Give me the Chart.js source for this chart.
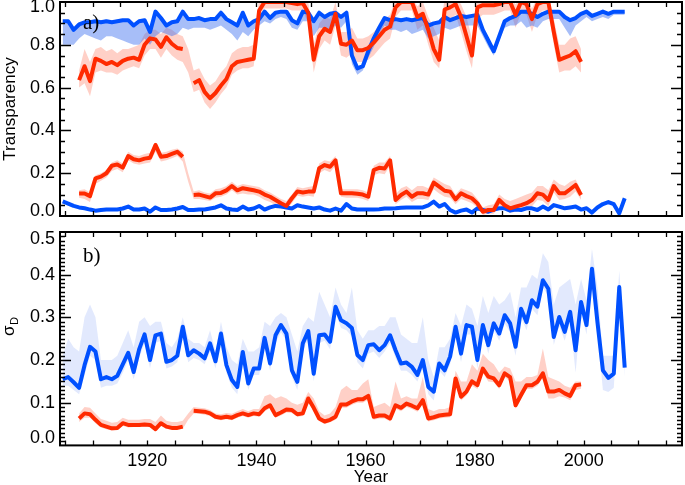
<!DOCTYPE html>
<html lang="en">
<head>
<meta charset="UTF-8">
<title>Transparency and sigma D</title>
<style>
  html, body { margin: 0; padding: 0; background: #fff; overflow: hidden; }
  #wrap { position: relative; width: 685px; height: 485px; }
  #panelA { position: absolute; left: 0; top: 0; }
  #panelB { position: absolute; left: 0; top: 225px; }
</style>
</head>
<body>
<div id="wrap">
  <canvas id="panelA" width="685" height="222"></canvas>
  <canvas id="panelB" width="685" height="263"></canvas>
</div>
<script src="https://cdn.jsdelivr.net/npm/chart.js"></script>
<script>
// blue series: one value per year 1904-2007, red series: 1907-1999 (1927 missing)
const blueFirstYear = 1904;
const redFirstYear = 1907;
const MID = 0.5; // annual values are plotted at mid-year

// panel a) transparency, upper blue curve and the lower edge of its band
const blueTop = [
  0.91,0.91,0.87,0.895,0.905,0.905,0.91,0.905,0.91,0.905,
  0.91,0.915,0.915,0.89,0.91,0.915,0.86,0.955,0.925,0.89,
  0.905,0.91,0.955,0.92,0.92,0.925,0.915,0.92,0.92,0.95,
  0.92,0.905,0.89,0.95,0.89,0.91,0.92,0.955,0.925,0.95,
  0.955,0.955,0.915,0.90,0.955,0.95,0.91,0.95,0.93,0.945,
  0.95,0.93,0.95,0.75,0.69,0.70,0.77,0.83,0.88,0.925,
  0.915,0.92,0.915,0.92,0.915,0.92,0.925,0.89,0.90,0.905,
  0.93,0.915,0.925,0.935,0.93,0.935,0.94,0.87,0.82,0.77,
  0.84,0.91,0.925,0.935,0.955,0.955,0.945,0.93,0.945,0.955,
  0.955,0.955,0.93,0.915,0.925,0.945,0.955,0.935,0.945,0.955,
  0.945,0.955,0.955,0.955
];
const blueTopLo = [
  0.80,0.80,0.80,0.83,0.85,0.84,0.83,0.82,0.84,0.84,
  0.83,0.82,0.81,0.80,0.80,0.83,0.80,0.84,0.86,0.85,
  0.84,0.85,0.88,0.87,0.88,0.88,0.88,0.87,0.88,0.89,
  0.87,0.85,0.82,0.86,0.84,0.87,0.89,0.91,0.90,0.92,
  0.93,0.92,0.88,0.87,0.91,0.91,0.84,0.88,0.88,0.87,
  0.89,0.88,0.91,0.71,0.66,0.68,0.74,0.79,0.85,0.89,
  0.87,0.87,0.86,0.87,0.85,0.86,0.87,0.83,0.84,0.85,
  0.88,0.87,0.88,0.89,0.89,0.89,0.89,0.84,0.79,0.75,
  0.82,0.88,0.89,0.89,0.91,0.88,0.89,0.88,0.91,0.92,
  0.92,0.92,0.88,0.84,0.89,0.91,0.93,0.91,0.92,0.93,
  0.92,0.94,0.94,0.94
];
const blueBottom = [
  0.068,0.058,0.047,0.04,0.036,0.03,0.025,0.028,0.03,0.03,
  0.03,0.035,0.044,0.03,0.03,0.035,0.02,0.04,0.028,0.028,
  0.03,0.035,0.042,0.028,0.028,0.03,0.03,0.035,0.04,0.05,
  0.035,0.03,0.028,0.044,0.03,0.035,0.047,0.03,0.04,0.047,
  0.044,0.04,0.035,0.05,0.044,0.04,0.035,0.04,0.03,0.025,
  0.035,0.025,0.056,0.035,0.03,0.03,0.03,0.03,0.032,0.035,
  0.035,0.036,0.038,0.04,0.04,0.04,0.04,0.05,0.067,0.044,
  0.056,0.028,0.016,0.025,0.03,0.016,0.036,0.028,0.02,0.03,
  0.036,0.036,0.025,0.03,0.028,0.036,0.036,0.028,0.044,0.03,
  0.051,0.044,0.036,0.04,0.044,0.03,0.036,0.016,0.04,0.056,
  0.065,0.055,0.012,0.083
];

// panel a) red curves with their bands
const redTop = [
  0.635,0.70,0.63,0.735,0.725,0.71,0.72,0.705,0.725,0.735,
  0.74,0.73,0.80,0.83,0.825,0.79,0.835,0.805,0.785,0.78,
  null,0.62,0.635,0.58,0.55,0.575,0.61,0.64,0.70,0.72,
  0.725,0.73,0.735,0.96,1.0,1.0,1.0,1.0,1.0,0.995,
  0.99,0.995,0.95,0.73,0.84,0.875,0.86,0.945,0.805,0.80,
  0.82,0.775,0.775,0.785,0.81,0.84,0.87,0.885,0.975,1.0,
  1.0,1.0,0.93,0.945,0.87,0.78,0.73,0.965,0.975,0.99,
  0.93,0.84,0.75,0.975,0.985,0.985,0.985,0.99,1.0,1.0,
  0.94,1.0,0.99,0.92,0.99,1.0,1.0,0.86,0.73,0.74,
  0.75,0.77,0.72
];
const redTopLo = [
  0.60,0.62,0.56,0.67,0.68,0.67,0.67,0.66,0.68,0.69,
  0.70,0.69,0.75,0.78,0.78,0.74,0.78,0.75,0.73,0.72,
  0.67,0.58,0.59,0.53,0.50,0.53,0.57,0.60,0.66,0.68,
  0.69,0.69,0.70,0.92,0.97,0.97,0.97,0.97,0.97,0.96,
  0.96,0.96,0.90,0.67,0.78,0.82,0.80,0.89,0.75,0.74,
  0.76,0.72,0.72,0.73,0.75,0.78,0.81,0.83,0.93,0.96,
  0.96,0.96,0.87,0.89,0.80,0.72,0.69,0.91,0.92,0.94,
  0.86,0.77,0.69,0.92,0.94,0.94,0.94,0.95,0.96,0.96,
  0.88,0.95,0.94,0.86,0.94,0.96,0.96,0.80,0.67,0.68,
  0.68,0.70,0.67
];
const redTopHi = [
  0.68,0.78,0.72,0.78,0.79,0.77,0.78,0.76,0.78,0.78,
  0.79,0.80,0.85,0.87,0.87,0.85,0.88,0.87,0.85,0.84,
  0.78,0.68,0.69,0.64,0.61,0.63,0.67,0.70,0.76,0.78,
  0.79,0.79,0.80,1.02,1.02,1.02,1.02,1.02,1.02,1.02,
  1.02,1.02,1.0,0.80,0.90,0.93,0.92,1.0,0.86,0.86,
  0.88,0.83,0.83,0.84,0.86,0.89,0.92,0.94,1.02,1.02,
  1.02,1.02,0.98,1.0,0.93,0.88,0.82,1.02,1.02,1.02,
  0.99,0.93,0.83,1.02,1.02,1.02,1.02,1.02,1.02,1.02,
  0.99,1.02,1.02,0.97,1.02,1.02,1.02,0.92,0.80,0.80,
  0.83,0.84,0.78
];
const redBottom = [
  0.105,0.105,0.093,0.176,0.184,0.20,0.235,0.241,0.226,0.28,
  0.265,0.26,0.268,0.272,0.332,0.277,0.28,0.29,0.30,0.277,
  null,0.098,0.10,0.093,0.086,0.106,0.108,0.12,0.14,0.12,
  0.13,0.125,0.12,0.114,0.10,0.09,0.075,0.06,0.047,0.083,
  0.115,0.11,0.114,0.114,0.223,0.238,0.23,0.26,0.106,0.106,
  0.106,0.104,0.10,0.09,0.215,0.225,0.222,0.26,0.075,0.098,
  0.114,0.09,0.106,0.106,0.10,0.156,0.137,0.118,0.114,0.078,
  0.106,0.093,0.083,0.059,0.02,0.028,0.028,0.075,0.05,0.036,
  0.044,0.051,0.06,0.075,0.106,0.10,0.075,0.14,0.106,0.106,
  0.125,0.145,0.098
];
const redBottomLo = [
  0.085,0.08,0.065,0.15,0.165,0.18,0.21,0.22,0.205,0.26,
  0.245,0.24,0.245,0.25,0.30,0.255,0.26,0.27,0.28,0.255,
  0.16,0.08,0.08,0.075,0.07,0.085,0.09,0.10,0.12,0.10,
  0.105,0.10,0.10,0.09,0.075,0.065,0.05,0.04,0.03,0.06,
  0.095,0.09,0.095,0.09,0.20,0.215,0.205,0.235,0.09,0.085,
  0.085,0.085,0.08,0.07,0.19,0.20,0.195,0.235,0.055,0.075,
  0.09,0.065,0.08,0.08,0.075,0.125,0.105,0.09,0.085,0.055,
  0.08,0.07,0.06,0.04,0.005,0.01,0.01,0.05,0.03,0.015,
  0.02,0.025,0.035,0.045,0.075,0.07,0.045,0.11,0.075,0.08,
  0.09,0.115,0.075
];
const redBottomHi = [
  0.12,0.125,0.11,0.19,0.20,0.215,0.25,0.26,0.245,0.30,
  0.285,0.28,0.29,0.295,0.345,0.295,0.30,0.31,0.315,0.30,
  0.20,0.115,0.12,0.11,0.105,0.125,0.13,0.14,0.16,0.14,
  0.15,0.145,0.14,0.135,0.12,0.11,0.095,0.08,0.07,0.10,
  0.135,0.13,0.135,0.14,0.245,0.26,0.255,0.28,0.125,0.125,
  0.125,0.125,0.12,0.11,0.235,0.25,0.25,0.28,0.10,0.13,
  0.14,0.12,0.14,0.14,0.13,0.18,0.165,0.15,0.14,0.10,
  0.13,0.12,0.11,0.08,0.04,0.05,0.055,0.10,0.08,0.07,
  0.08,0.09,0.10,0.11,0.14,0.14,0.12,0.17,0.15,0.14,
  0.16,0.17,0.12
];

// panel b) sigma_D
const blueSigma = [
  0.155,0.16,0.148,0.135,0.188,0.231,0.22,0.155,0.16,0.155,
  0.163,0.19,0.217,0.172,0.225,0.26,0.20,0.258,0.262,0.196,
  0.20,0.21,0.278,0.211,0.223,0.215,0.204,0.239,0.197,0.262,
  0.188,0.153,0.137,0.219,0.145,0.18,0.18,0.252,0.192,0.258,
  0.282,0.262,0.176,0.149,0.239,0.268,0.168,0.258,0.26,0.243,
  0.325,0.293,0.286,0.275,0.212,0.20,0.235,0.237,0.223,0.235,
  0.258,0.223,0.192,0.194,0.184,0.165,0.20,0.137,0.126,0.192,
  0.176,0.208,0.278,0.215,0.282,0.278,0.20,0.282,0.235,0.286,
  0.262,0.305,0.286,0.231,0.32,0.289,0.34,0.325,0.387,0.367,
  0.254,0.301,0.266,0.313,0.223,0.336,0.282,0.414,0.289,0.176,
  0.158,0.168,0.371,0.182
];
const blueSigmaLo = [
  0.14,0.14,0.13,0.12,0.165,0.21,0.20,0.135,0.14,0.14,
  0.145,0.17,0.20,0.155,0.205,0.24,0.18,0.24,0.245,0.18,
  0.185,0.195,0.26,0.195,0.205,0.20,0.19,0.22,0.18,0.245,
  0.17,0.135,0.12,0.20,0.13,0.165,0.165,0.235,0.175,0.24,
  0.265,0.245,0.16,0.13,0.22,0.25,0.15,0.24,0.245,0.225,
  0.31,0.275,0.27,0.255,0.195,0.18,0.215,0.22,0.205,0.22,
  0.24,0.205,0.175,0.175,0.165,0.15,0.18,0.12,0.105,0.175,
  0.16,0.19,0.26,0.195,0.26,0.26,0.18,0.265,0.215,0.27,
  0.245,0.285,0.265,0.21,0.30,0.27,0.32,0.305,0.37,0.35,
  0.235,0.28,0.245,0.29,0.17,0.315,0.26,0.39,0.265,0.13,
  0.125,0.135,0.35,0.16
];
const blueSigmaHi = [
  0.21,0.25,0.23,0.22,0.30,0.33,0.30,0.20,0.20,0.20,
  0.21,0.24,0.27,0.23,0.29,0.30,0.28,0.29,0.29,0.24,
  0.23,0.25,0.30,0.25,0.24,0.24,0.23,0.27,0.22,0.29,
  0.23,0.20,0.19,0.25,0.22,0.22,0.23,0.29,0.28,0.30,
  0.31,0.30,0.26,0.22,0.28,0.30,0.29,0.36,0.33,0.30,
  0.37,0.33,0.31,0.37,0.27,0.25,0.27,0.27,0.28,0.28,
  0.30,0.30,0.26,0.25,0.24,0.24,0.30,0.20,0.16,0.23,
  0.23,0.25,0.31,0.28,0.33,0.32,0.28,0.35,0.31,0.35,
  0.33,0.34,0.36,0.30,0.37,0.37,0.40,0.39,0.45,0.43,
  0.33,0.37,0.38,0.39,0.33,0.39,0.34,0.46,0.37,0.21,
  0.21,0.21,0.41,0.22
];
const redSigma = [
  0.063,0.075,0.073,0.06,0.048,0.044,0.04,0.041,0.052,0.048,
  0.048,0.048,0.049,0.048,0.038,0.052,0.044,0.041,0.041,0.044,
  null,0.081,0.08,0.079,0.075,0.067,0.065,0.067,0.065,0.071,
  0.075,0.071,0.075,0.073,0.087,0.094,0.071,0.077,0.084,0.083,
  0.073,0.075,0.11,0.088,0.063,0.056,0.06,0.067,0.096,0.096,
  0.103,0.108,0.108,0.116,0.067,0.07,0.07,0.063,0.094,0.088,
  0.098,0.093,0.087,0.106,0.063,0.066,0.07,0.072,0.073,0.157,
  0.114,0.126,0.15,0.141,0.18,0.161,0.157,0.141,0.169,0.16,
  0.094,0.118,0.141,0.141,0.149,0.169,0.126,0.126,0.13,0.122,
  0.116,0.141,0.143
];
const redSigmaLo = [
  0.055,0.065,0.065,0.052,0.042,0.038,0.035,0.036,0.046,0.042,
  0.043,0.043,0.044,0.043,0.033,0.046,0.039,0.036,0.036,0.039,
  0.06,0.075,0.074,0.072,0.069,0.061,0.059,0.061,0.059,0.065,
  0.069,0.065,0.069,0.067,0.08,0.087,0.065,0.07,0.077,0.076,
  0.067,0.069,0.102,0.08,0.057,0.05,0.054,0.06,0.088,0.088,
  0.095,0.10,0.10,0.107,0.06,0.063,0.063,0.056,0.086,0.08,
  0.09,0.085,0.079,0.098,0.056,0.059,0.063,0.065,0.066,0.148,
  0.105,0.117,0.14,0.132,0.17,0.15,0.148,0.132,0.16,0.15,
  0.086,0.11,0.132,0.132,0.14,0.16,0.11,0.11,0.115,0.112,
  0.106,0.13,0.133
];
const redSigmaHi = [
  0.075,0.09,0.088,0.075,0.062,0.058,0.053,0.055,0.065,0.06,
  0.06,0.06,0.062,0.062,0.055,0.07,0.058,0.055,0.055,0.058,
  0.075,0.09,0.088,0.087,0.083,0.075,0.073,0.076,0.074,0.08,
  0.085,0.08,0.085,0.085,0.115,0.12,0.11,0.115,0.11,0.10,
  0.095,0.10,0.125,0.11,0.08,0.07,0.075,0.09,0.13,0.14,
  0.13,0.13,0.145,0.155,0.09,0.095,0.10,0.09,0.15,0.11,
  0.115,0.11,0.11,0.16,0.085,0.08,0.085,0.085,0.09,0.175,
  0.15,0.15,0.19,0.175,0.215,0.20,0.19,0.17,0.185,0.18,
  0.15,0.15,0.16,0.16,0.165,0.227,0.16,0.155,0.15,0.14,
  0.135,0.15,0.15
];

const BLUE = '#0050ff';
const RED = '#ff2a00';
const BLUE_BAND_A = 'rgba(60,110,240,0.45)';
const BLUE_BAND_B = 'rgba(60,110,240,0.15)';
const RED_BAND = 'rgba(255,100,70,0.3)';
const SANS = "'Liberation Sans', Arial, sans-serif";
const SERIF = "'Liberation Serif', 'Times New Roman', serif";

function pts(first, vals) {
  return vals.map((v, i) => ({ x: first + i + MID, y: v }));
}

function line(first, vals, color, order) {
  return {
    data: pts(first, vals), borderColor: color, borderWidth: 4,
    pointRadius: 0, fill: false, tension: 0, order: order,
    borderJoinStyle: 'round', spanGaps: false
  };
}

function bandEdge(first, vals, fillTarget, color, order) {
  return {
    data: pts(first, vals), borderWidth: 0, pointRadius: 0,
    borderColor: 'rgba(0,0,0,0)', backgroundColor: color || 'rgba(0,0,0,0)',
    fill: fillTarget === undefined ? false : fillTarget, tension: 0, order: order
  };
}

// end tick labels sit a little inside the frame, like the original plot
function yLabel(v, i, ticks) {
  const s = v.toFixed(1);
  if (i === ticks.length - 1) return ['', s];
  if (i === 0) return [s, ''];
  return s;
}

// fixed axis sizes, and no extra room reserved for the end labels
function fixWidth(s) { s.width = 60; s.paddingTop = 0; s.paddingBottom = 0; }
function fixHeight(s) { s.height = 42.6; s.paddingLeft = 0; s.paddingRight = 0; }

// frame with inward ticks on all four sides, panel letters and sigma_D label
const framePlugin = {
  id: 'frame',
  afterDraw(chart, args, o) {
    const { ctx, chartArea: a, scales: { x, y } } = chart;
    ctx.save();
    ctx.strokeStyle = '#000';
    ctx.lineWidth = 1.3;
    ctx.beginPath();
    for (let v = 1905; v <= 2015; v += 5) {
      const px = Math.round(x.getPixelForValue(v)) + 0.5;
      ctx.moveTo(px, a.bottom); ctx.lineTo(px, a.bottom - 5);
      ctx.moveTo(px, a.top); ctx.lineTo(px, a.top + 5);
    }
    const n = Math.round((y.max - y.min) / o.yStep);
    for (let i = 1; i < n; i++) {
      const py = Math.round(y.getPixelForValue(y.min + i * o.yStep)) + 0.5;
      const len = i % o.majorEvery === 0 ? 11 : 5;
      ctx.moveTo(a.left, py); ctx.lineTo(a.left + len, py);
      ctx.moveTo(a.right, py); ctx.lineTo(a.right - len, py);
    }
    ctx.stroke();
    ctx.lineWidth = 2;
    ctx.strokeRect(a.left, a.top, a.right - a.left, a.bottom - a.top);

    ctx.fillStyle = '#000';
    ctx.font = '21px ' + SERIF;
    ctx.textBaseline = 'alphabetic';
    ctx.textAlign = 'left';
    ctx.fillText(o.letter, o.letterX, o.letterY);

    if (o.sigma) {
      ctx.translate(14, 111);
      ctx.rotate(-Math.PI / 2);
      ctx.font = '17px ' + SANS;
      ctx.fillText('σ', 0, 0);
      const w = ctx.measureText('σ').width;
      ctx.font = '11px ' + SANS;
      ctx.fillText('D', w + 0.5, 3.5);
    }
    ctx.restore();
  }
};

const tickFont = (lh) => ({ family: SANS, size: 18, lineHeight: lh });

// panel a) Transparency
new Chart(document.getElementById('panelA'), {
  type: 'line',
  data: {
    datasets: [
      line(blueFirstYear, blueTop, BLUE, 1),
      line(redFirstYear, redTop, RED, 0),
      line(redFirstYear, redBottom, RED, 0),
      line(blueFirstYear, blueBottom, BLUE, 1),
      bandEdge(redFirstYear, redTopLo, undefined, null, 3),
      bandEdge(redFirstYear, redTopHi, 4, RED_BAND, 3),
      bandEdge(redFirstYear, redBottomLo, undefined, null, 3),
      bandEdge(redFirstYear, redBottomHi, 6, RED_BAND, 3),
      bandEdge(blueFirstYear, blueTopLo, 0, BLUE_BAND_A, 2)
    ]
  },
  options: {
    responsive: false,
    animation: false,
    events: [],
    layout: { padding: { top: 2, right: 3, bottom: 6, left: 0 } },
    plugins: {
      legend: { display: false },
      tooltip: { enabled: false },
      frame: { yStep: 0.05, majorEvery: 4, letter: 'a)', letterX: 83, letterY: 29, sigma: false }
    },
    scales: {
      x: { type: 'linear', min: 1904, max: 2018, display: false },
      y: {
        min: 0, max: 1,
        afterFit: fixWidth,
        border: { display: false },
        grid: { display: false, drawTicks: false },
        ticks: { stepSize: 0.2, padding: 5, color: '#000', font: tickFont('10px'), callback: yLabel },
        title: { display: true, text: 'Transparency', color: '#000', padding: 0, font: { family: SANS, size: 17 } }
      }
    }
  },
  plugins: [framePlugin]
});

// panel b) sigma_D
new Chart(document.getElementById('panelB'), {
  type: 'line',
  data: {
    datasets: [
      line(blueFirstYear, blueSigma, BLUE, 1),
      line(redFirstYear, redSigma, RED, 0),
      bandEdge(blueFirstYear, blueSigmaLo, undefined, null, 3),
      bandEdge(blueFirstYear, blueSigmaHi, 2, BLUE_BAND_B, 3),
      bandEdge(redFirstYear, redSigmaLo, undefined, null, 3),
      bandEdge(redFirstYear, redSigmaHi, 4, RED_BAND, 3)
    ]
  },
  options: {
    responsive: false,
    animation: false,
    events: [],
    layout: { padding: { top: 7, right: 3, bottom: 0, left: 0 } },
    plugins: {
      legend: { display: false },
      tooltip: { enabled: false },
      frame: { yStep: 0.01, majorEvery: 10, letter: 'b)', letterX: 83, letterY: 37, sigma: true }
    },
    scales: {
      x: {
        type: 'linear', min: 1904, max: 2018,
        afterFit: fixHeight,
        border: { display: false },
        grid: { display: false, drawTicks: false },
        ticks: {
          stepSize: 20, includeBounds: false, padding: 5, color: '#000',
          maxRotation: 0, font: { family: SANS, size: 18 },
          callback: (v) => String(v)
        },
        title: { display: true, text: 'Year', color: '#000', padding: 0, font: { family: SANS, size: 17 } }
      },
      y: {
        min: 0, max: 0.5,
        afterFit: fixWidth,
        border: { display: false },
        grid: { display: false, drawTicks: false },
        ticks: { stepSize: 0.1, padding: 5, color: '#000', font: tickFont('14px'), callback: yLabel }
      }
    }
  },
  plugins: [framePlugin]
});
</script>
</body>
</html>
